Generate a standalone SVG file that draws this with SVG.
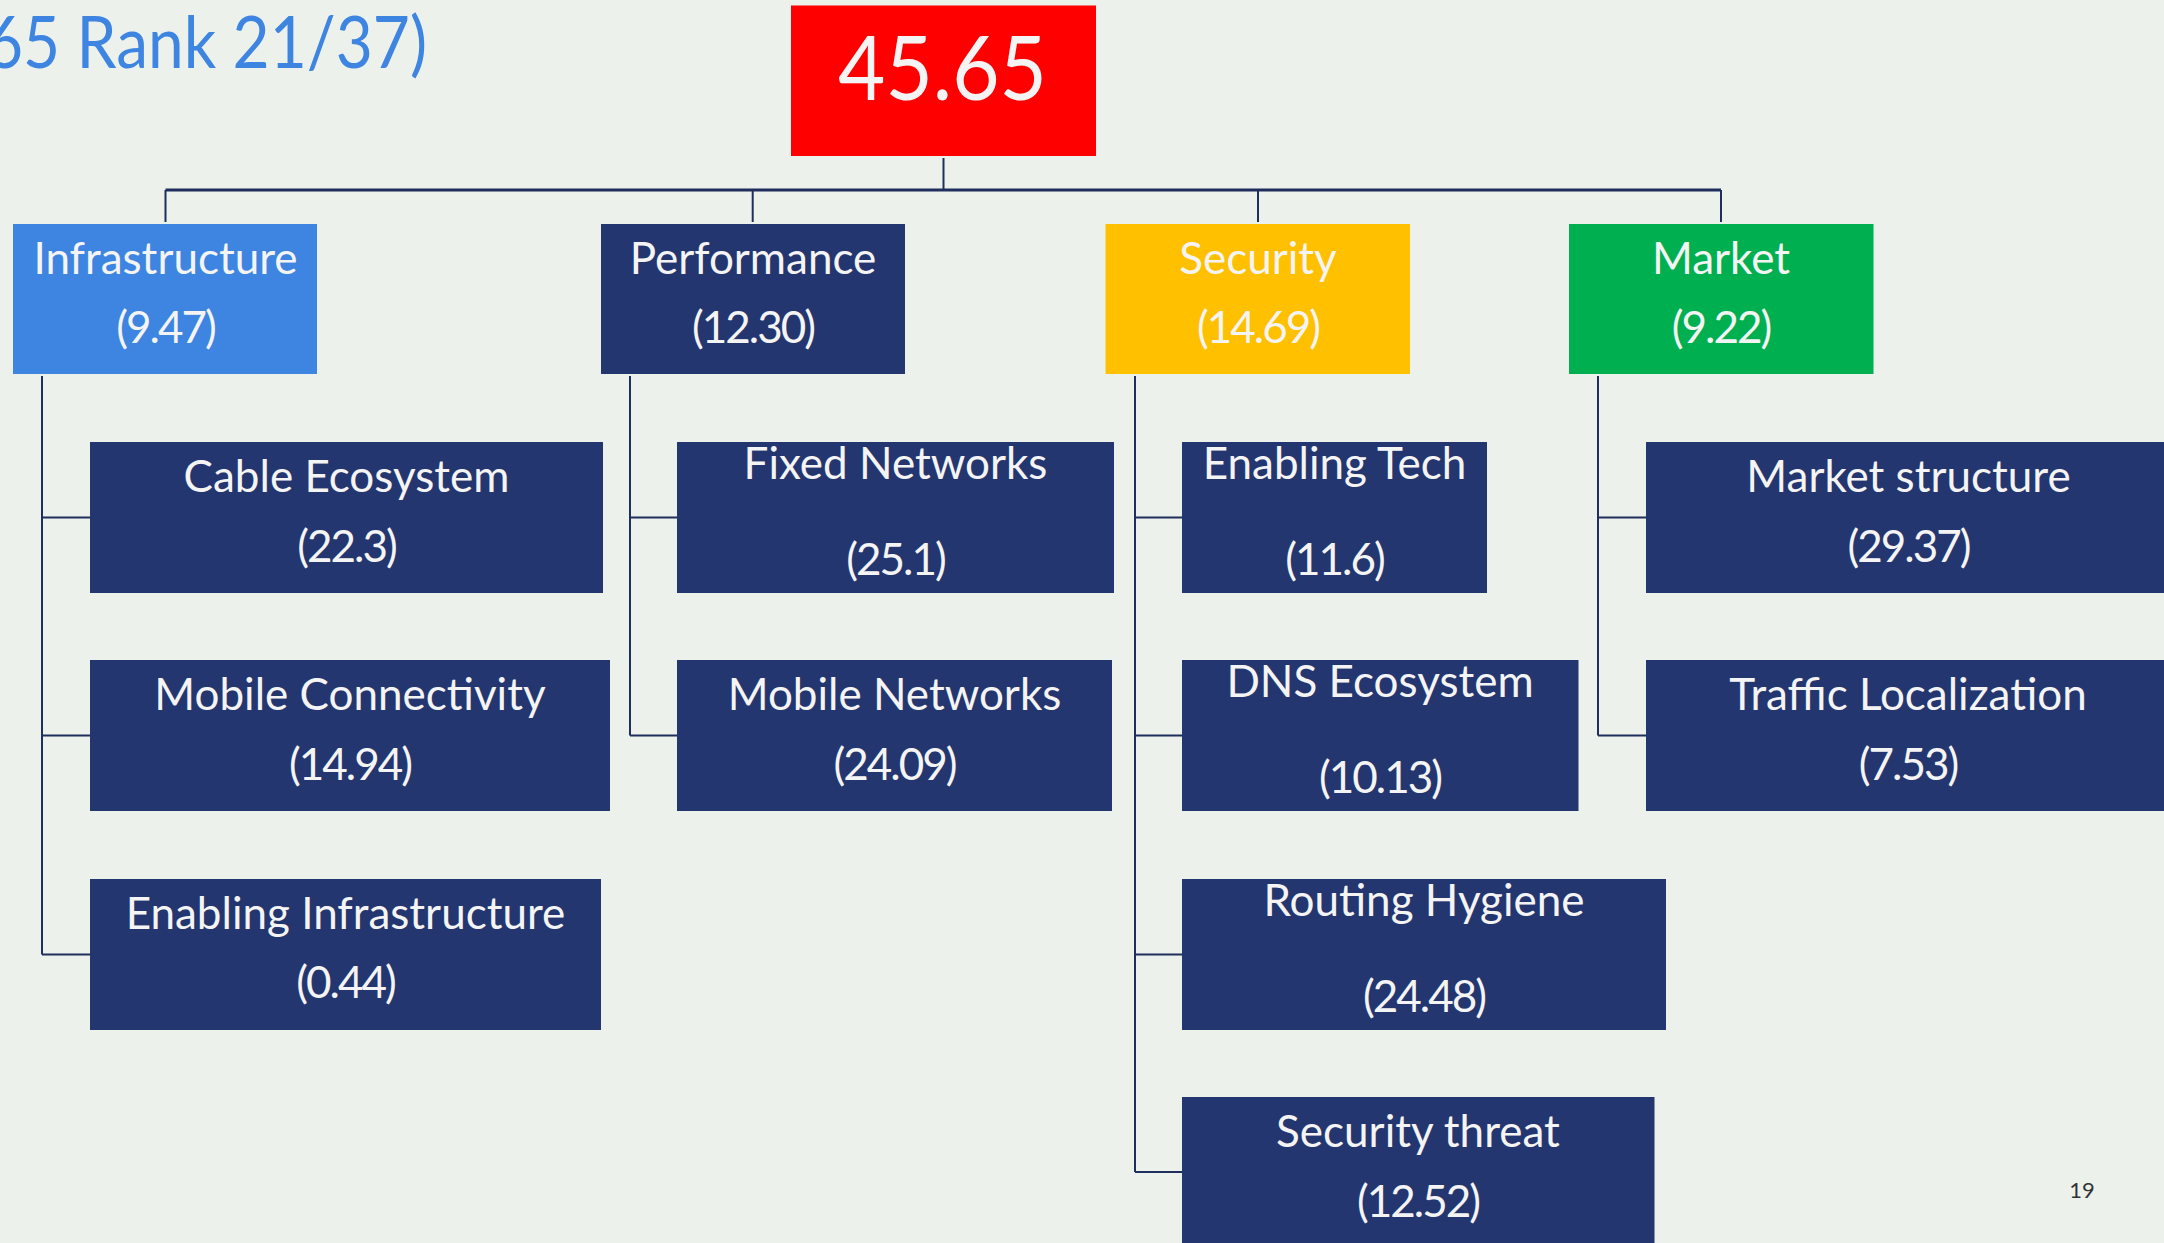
<svg xmlns="http://www.w3.org/2000/svg" width="2164" height="1243" viewBox="0 0 2164 1243">
  <style>
    .bg { fill: #EDF1EC; }
    .navy { fill: #24366F; }
    .lbl { font-family: Lato, "Liberation Sans", sans-serif; font-size: 44px; fill: #F4F4F4; text-anchor: middle; }
    .num { letter-spacing: -2px; }
    .wire { fill: none; stroke: #1F2E5C; stroke-width: 2; }
    .trunk { fill: none; stroke: #1F2E5C; stroke-width: 3; }
  </style>

  <rect class="bg" x="0" y="0" width="2164" height="1243"/>

  <!-- heading, running off the left edge -->
  <text x="-14" y="68" textLength="441" lengthAdjust="spacingAndGlyphs" font-family="Lato, 'Liberation Sans', sans-serif" font-size="72" fill="#3D85E1">65 Rank 21/37)</text>

  <!-- connectors -->
  <g id="connectors">
    <path class="wire" d="M943.5 158 V190"/>
    <path class="trunk" d="M165.5 190 H1721"/>
    <path class="wire" d="M165.5 190 V222 M752.7 190 V222 M1258 190 V222 M1721 190 V222"/>
    <!-- Infrastructure children -->
    <path class="wire" d="M42 376 V954.5 M42 517.5 H90 M42 735.5 H90 M42 954.5 H90"/>
    <!-- Performance children -->
    <path class="wire" d="M630 376 V735.5 M630 517.5 H677 M630 735.5 H677"/>
    <!-- Security children -->
    <path class="wire" d="M1135 376 V1172 M1135 517.5 H1182 M1135 735.5 H1182 M1135 954.5 H1182 M1135 1172 H1182"/>
    <!-- Market children -->
    <path class="wire" d="M1598 376 V735.5 M1598 517.5 H1646 M1598 735.5 H1646"/>
  </g>

  <!-- overall score -->
  <g id="score">
    <rect x="791" y="5.5" width="305" height="150.5" fill="#FF0000"/>
    <text x="838" y="100" textLength="209" lengthAdjust="spacingAndGlyphs" font-family="Lato, 'Liberation Sans', sans-serif" font-size="90" fill="#F4F4F4">45.65</text>
  </g>

  <!-- pillars -->
  <g id="infrastructure">
    <rect x="13" y="224" width="304" height="150" fill="#3D85E1"/>
    <text class="lbl" x="165.5" y="274">Infrastructure</text>
    <text class="lbl num" x="165.5" y="343">(9.47)</text>
  </g>
  <g id="performance">
    <rect class="navy" x="601" y="224" width="304" height="150"/>
    <text class="lbl" x="753" y="274">Performance</text>
    <text class="lbl num" x="753" y="343">(12.30)</text>
  </g>
  <g id="security">
    <rect x="1105.5" y="224" width="304.5" height="150" fill="#FFC000"/>
    <text class="lbl" x="1258" y="274">Security</text>
    <text class="lbl num" x="1258" y="343">(14.69)</text>
  </g>
  <g id="market">
    <rect x="1569" y="224" width="304.5" height="150" fill="#00B050"/>
    <text class="lbl" x="1721" y="274">Market</text>
    <text class="lbl num" x="1721" y="343">(9.22)</text>
  </g>

  <!-- Infrastructure indicators -->
  <g id="cable-ecosystem">
    <rect class="navy" x="90" y="442" width="513" height="151"/>
    <text class="lbl" x="346.5" y="492">Cable Ecosystem</text>
    <text class="lbl num" x="346.5" y="562">(22.3)</text>
  </g>
  <g id="mobile-connectivity">
    <rect class="navy" x="90" y="660" width="520" height="151"/>
    <text class="lbl" x="350" y="710">Mobile Connectivity</text>
    <text class="lbl num" x="350" y="780">(14.94)</text>
  </g>
  <g id="enabling-infrastructure">
    <rect class="navy" x="90" y="879" width="511" height="151"/>
    <text class="lbl" x="345.5" y="929">Enabling Infrastructure</text>
    <text class="lbl num" x="345.5" y="998">(0.44)</text>
  </g>

  <!-- Performance indicators -->
  <g id="fixed-networks">
    <rect class="navy" x="677" y="442" width="437" height="151"/>
    <text class="lbl" x="895.5" y="479">Fixed Networks</text>
    <text class="lbl num" x="895.5" y="575">(25.1)</text>
  </g>
  <g id="mobile-networks">
    <rect class="navy" x="677" y="660" width="435" height="151"/>
    <text class="lbl" x="894.5" y="710">Mobile Networks</text>
    <text class="lbl num" x="894.5" y="780">(24.09)</text>
  </g>

  <!-- Security indicators -->
  <g id="enabling-tech">
    <rect class="navy" x="1182" y="442" width="305" height="151"/>
    <text class="lbl" x="1334.5" y="479">Enabling Tech</text>
    <text class="lbl num" x="1334.5" y="575">(11.6)</text>
  </g>
  <g id="dns-ecosystem">
    <rect class="navy" x="1182" y="660" width="396.5" height="151"/>
    <text class="lbl" x="1380" y="697">DNS Ecosystem</text>
    <text class="lbl num" x="1380" y="793">(10.13)</text>
  </g>
  <g id="routing-hygiene">
    <rect class="navy" x="1182" y="879" width="484" height="151"/>
    <text class="lbl" x="1424" y="916">Routing Hygiene</text>
    <text class="lbl num" x="1424" y="1012">(24.48)</text>
  </g>
  <g id="security-threat">
    <rect class="navy" x="1182" y="1097" width="472.5" height="151"/>
    <text class="lbl" x="1418" y="1147">Security threat</text>
    <text class="lbl num" x="1418" y="1217">(12.52)</text>
  </g>

  <!-- Market indicators -->
  <g id="market-structure">
    <rect class="navy" x="1646" y="442" width="525" height="151"/>
    <text class="lbl" x="1908.5" y="492">Market structure</text>
    <text class="lbl num" x="1908.5" y="562">(29.37)</text>
  </g>
  <g id="traffic-localization">
    <rect class="navy" x="1646" y="660" width="525" height="151"/>
    <text class="lbl" x="1908" y="710">Traffic Localization</text>
    <text class="lbl num" x="1908" y="780">(7.53)</text>
  </g>

  <!-- page number -->
  <text x="2082" y="1198" font-family="Lato, 'Liberation Sans', sans-serif" font-size="22" fill="#333333" text-anchor="middle">19</text>
</svg>
